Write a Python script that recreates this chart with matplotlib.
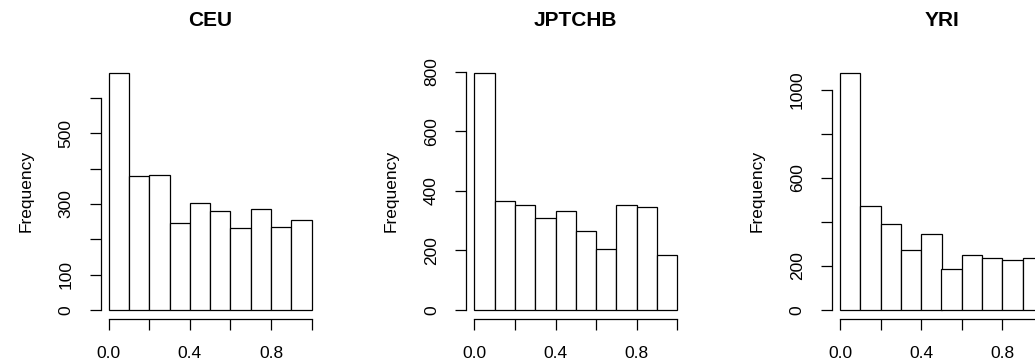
import numpy as np
import matplotlib
matplotlib.use("Agg")
import matplotlib.pyplot as plt

plt.rcParams['font.family'] = ['Liberation Sans', 'DejaVu Sans']

# histogram bins and counts
bin_edges = [0.0, 0.1, 0.2, 0.3, 0.4, 0.5, 0.6, 0.7, 0.8, 0.9, 1.0]
titles = ['CEU', 'JPTCHB', 'YRI']
ceu = [672, 379, 381, 246, 303, 279, 231, 285, 234, 254]
jptchb = [798, 366, 353, 309, 333, 264, 206, 352, 346, 185]
yri = [1079, 470, 392, 271, 344, 186, 249, 235, 226, 235]

x_ticks = [0.0, 0.2, 0.4, 0.6, 0.8, 1.0]
x_labels = ['0.0', '', '0.4', '', '0.8', '']
ceu_yticks = [0, 100, 200, 300, 400, 500, 600]
ceu_ylabels = ['0', '100', '', '300', '', '500', '']
jpt_yticks = [0, 200, 400, 600, 800]
jpt_ylabels = ['0', '200', '400', '600', '800']
yri_yticks = [0, 200, 400, 600, 800, 1000]
yri_ylabels = ['0', '200', '', '600', '', '1000']

counts_all = [ceu, jptchb, yri]
yticks_all = [ceu_yticks, jpt_yticks, yri_yticks]
ylabels_all = [ceu_ylabels, jpt_ylabels, yri_ylabels]

fig = plt.figure(figsize=(10.35, 3.6), dpi=100)

lefts = [100.6, 466.2, 831.9]  # pixel position of plot region (like R mfrow)
for i in range(3):
    ax = fig.add_axes([lefts[i] / 1035, 1 - 319.3 / 360, 219.2 / 1035, (319.3 - 63.1) / 360])
    counts = counts_all[i]
    edges = np.array(bin_edges)
    ax.bar(edges[:-1], counts, width=np.diff(edges), align='edge',
           facecolor='white', edgecolor='black', linewidth=0.9)
    ymax = max(counts)
    ax.set_xlim(-0.04, 1.04)
    ax.set_ylim(-0.04 * ymax, 1.04 * ymax)
    ax.spines['top'].set_visible(False)
    ax.spines['right'].set_visible(False)
    ax.spines['left'].set_bounds(yticks_all[i][0], yticks_all[i][-1])
    ax.spines['bottom'].set_bounds(0, 1)
    ax.spines['left'].set_linewidth(0.9)
    ax.spines['bottom'].set_linewidth(0.9)
    ax.set_xticks(x_ticks)
    ax.set_xticklabels(x_labels)
    ax.set_yticks(yticks_all[i])
    ax.set_yticklabels(ylabels_all[i])
    ax.tick_params(axis='both', length=8, width=0.9, pad=11.5, labelsize=12.5)
    ax.tick_params(axis='y', labelrotation=90)
    for t in ax.get_yticklabels():
        t.set_va('center')
    ax.set_ylabel('Frequency', fontsize=12.5)
    ax.yaxis.set_label_coords(-0.307, 0.5)
    ax.set_title(titles[i], fontsize=15, fontweight='bold', pad=27)

plt.savefig('out.png', dpi=100)
